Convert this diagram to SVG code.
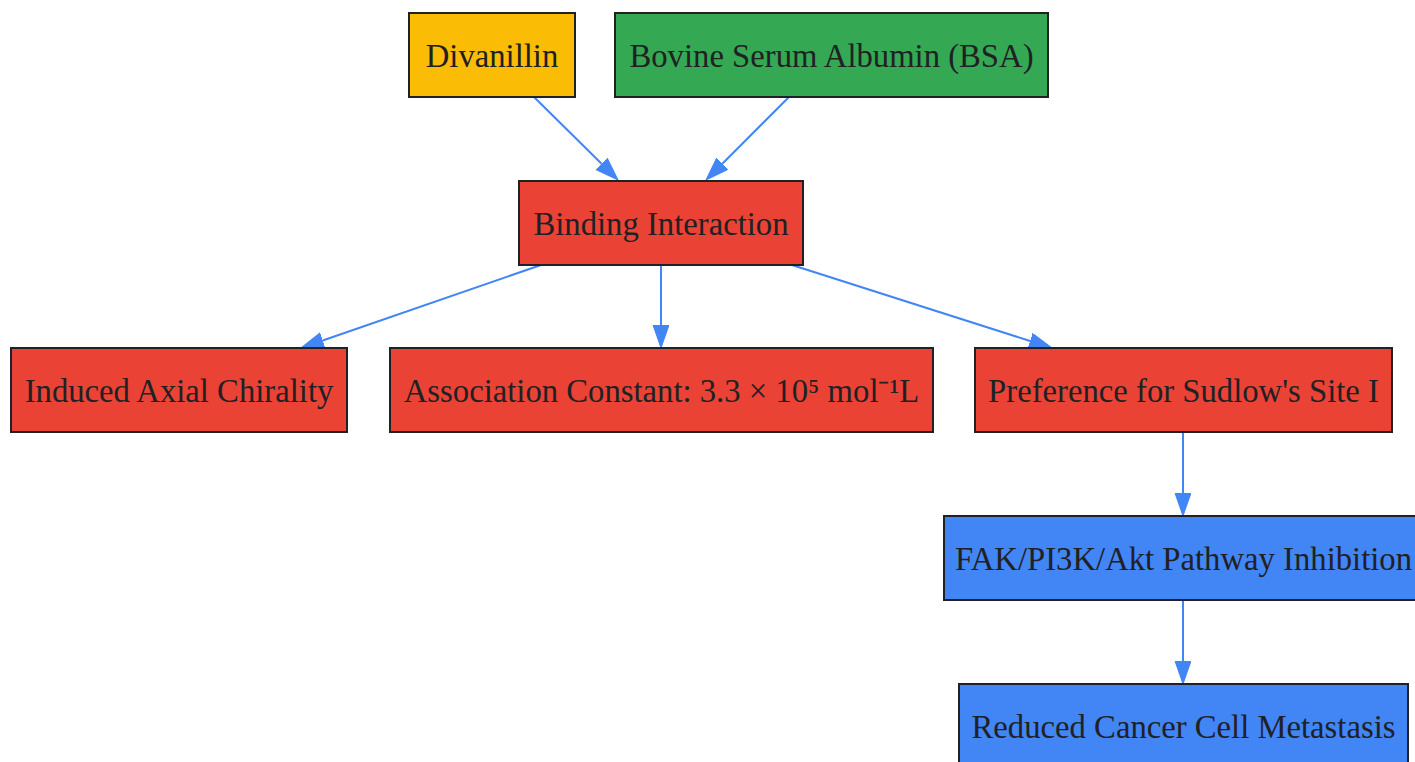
<svg xmlns="http://www.w3.org/2000/svg" width="1415" height="762" viewBox="0 0 1415 762">
<style>
.n rect{stroke:#202124;stroke-width:2}
.n text{font-family:"Liberation Serif","Times New Roman",serif;font-size:32.7px;fill:#202124;text-anchor:middle}
.y rect{fill:#FBBC05}
.g rect{fill:#34A853}
.r rect{fill:#EA4335}
.b rect{fill:#4285F4}
.e path{fill:none;stroke:#4285F4;stroke-width:2;marker-end:url(#ah)}
</style>
<defs>
<marker id="ah" markerUnits="userSpaceOnUse" markerWidth="24" markerHeight="18" refX="0" refY="8" orient="auto">
<path d="M0,0 L23,8 L0,16 z" fill="#4285F4" stroke="#4285F4" stroke-width="1"/>
</marker>
</defs>
<rect width="1415" height="762" fill="#ffffff"/>
<g id="edges" class="e">
<path d="M534,97 L601.6,163.8"/>
<path d="M789,97 L722.3,163.7"/>
<path d="M541,265 L322.7,340.5"/>
<path d="M661,265 L661,325"/>
<path d="M792,265 L1030.1,341"/>
<path d="M1183,432 L1183,493"/>
<path d="M1183,600 L1183,661"/>
</g>
<g id="divanillin" class="n y"><rect x="409" y="13" width="166" height="84"/><text x="492" y="66.5">Divanillin</text></g>
<g id="bsa" class="n g"><rect x="615" y="13" width="433" height="84"/><text x="831.5" y="66.5">Bovine Serum Albumin (BSA)</text></g>
<g id="binding" class="n r"><rect x="519" y="181" width="284" height="84"/><text x="661" y="234.5">Binding Interaction</text></g>
<g id="chirality" class="n r"><rect x="11" y="348" width="336" height="84"/><text x="179" y="401.5">Induced Axial Chirality</text></g>
<g id="association" class="n r"><rect x="390" y="348" width="543" height="84"/><text x="661.5" y="401.5">Association Constant: 3.3 × 10⁵ mol⁻¹L</text></g>
<g id="sudlow" class="n r"><rect x="975" y="348" width="417" height="84"/><text x="1183.5" y="401.5">Preference for Sudlow's Site I</text></g>
<g id="fak" class="n b"><rect x="944" y="516" width="479" height="84"/><text x="1183.5" y="569.5">FAK/PI3K/Akt Pathway Inhibition</text></g>
<g id="metastasis" class="n b"><rect x="959" y="684" width="449" height="84"/><text x="1183.5" y="737.5">Reduced Cancer Cell Metastasis</text></g>
</svg>
